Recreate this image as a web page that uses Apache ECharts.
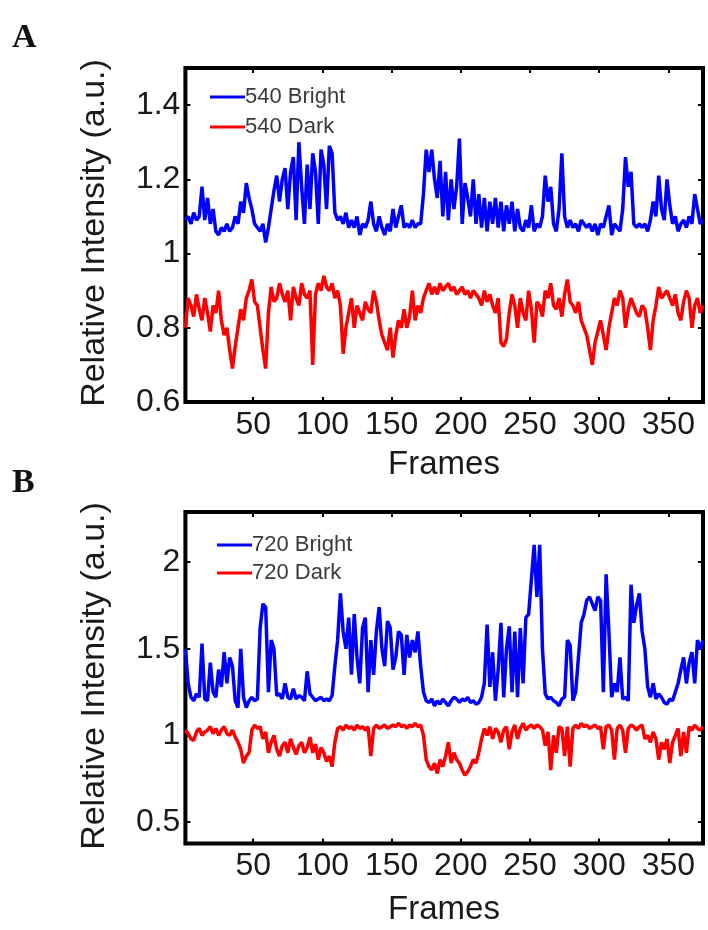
<!DOCTYPE html>
<html>
<head>
<meta charset="utf-8">
<script src="https://cdn.jsdelivr.net/npm/echarts@6/dist/echarts.min.js"></script>
<style>
html,body{margin:0;padding:0;background:#fff;}
#c{width:708px;height:930px;}
</style>
</head>
<body>
<div id="c"></div>
<script>
// Frame sampling grid (every 2nd frame, 1..375)
const frameStart = 1, frameEnd = 375, frameStep = 2;
const frames = [];
for (let f = frameStart; f <= frameEnd; f += frameStep) frames.push(f);

const xTicks = [50, 100, 150, 200, 250, 300, 350];
const yTicksA = [0.6, 0.8, 1, 1.2, 1.4];
const yTicksB = [0.5, 1, 1.5, 2];

const namesA = ['540 Bright', '540 Dark'];
const namesB = ['720 Bright', '720 Dark'];

const bright540 = [
1.09,1.10,1.08,1.11,1.09,1.10,1.18,1.09,1.15,1.08,
1.12,1.06,1.05,1.07,1.06,1.08,1.06,1.07,1.10,1.08,
1.14,1.11,1.19,1.15,1.12,1.08,1.07,1.06,1.08,1.03,
1.07,1.12,1.17,1.21,1.14,1.20,1.23,1.12,1.22,1.26,
1.09,1.30,1.18,1.08,1.24,1.12,1.27,1.22,1.08,1.28,
1.24,1.12,1.29,1.27,1.11,1.09,1.10,1.08,1.11,1.07,
1.09,1.07,1.10,1.05,1.08,1.07,1.09,1.14,1.08,1.06,
1.10,1.07,1.05,1.08,1.06,1.12,1.07,1.10,1.13,1.07,
1.08,1.07,1.09,1.07,1.08,1.08,1.16,1.28,1.22,1.28,
1.20,1.15,1.25,1.10,1.22,1.09,1.20,1.12,1.18,1.31,
1.08,1.19,1.15,1.10,1.20,1.08,1.16,1.07,1.15,1.06,
1.14,1.08,1.15,1.07,1.14,1.06,1.13,1.08,1.14,1.06,
1.12,1.07,1.06,1.09,1.07,1.13,1.06,1.08,1.07,1.10,
1.21,1.14,1.18,1.08,1.06,1.12,1.27,1.10,1.07,1.09,
1.07,1.08,1.06,1.09,1.08,1.07,1.08,1.06,1.08,1.05,
1.08,1.07,1.10,1.13,1.05,1.08,1.07,1.06,1.12,1.26,
1.18,1.22,1.08,1.07,1.08,1.07,1.08,1.06,1.09,1.14,
1.10,1.21,1.12,1.09,1.20,1.13,1.08,1.10,1.06,1.08,
1.09,1.07,1.10,1.08,1.16,1.12,1.08,1.09
];
const dark540 = [
0.80,0.88,0.86,0.83,0.89,0.85,0.82,0.88,0.84,0.79,
0.86,0.84,0.90,0.82,0.78,0.80,0.74,0.69,0.75,0.80,
0.85,0.82,0.88,0.90,0.93,0.87,0.86,0.80,0.74,0.69,
0.84,0.91,0.87,0.88,0.92,0.89,0.87,0.90,0.82,0.91,
0.88,0.86,0.92,0.89,0.88,0.90,0.70,0.89,0.92,0.90,
0.94,0.91,0.90,0.92,0.88,0.90,0.86,0.73,0.80,0.84,
0.88,0.80,0.86,0.84,0.82,0.87,0.85,0.84,0.90,0.87,
0.82,0.78,0.76,0.74,0.80,0.72,0.78,0.82,0.80,0.85,
0.80,0.83,0.90,0.82,0.86,0.84,0.88,0.90,0.92,0.89,
0.91,0.89,0.92,0.90,0.91,0.92,0.90,0.91,0.89,0.90,
0.91,0.89,0.90,0.88,0.90,0.89,0.88,0.86,0.90,0.87,
0.89,0.86,0.84,0.88,0.76,0.75,0.77,0.84,0.89,0.86,
0.80,0.88,0.84,0.82,0.90,0.85,0.76,0.87,0.86,0.83,
0.90,0.88,0.92,0.86,0.85,0.88,0.83,0.89,0.93,0.87,
0.86,0.84,0.87,0.82,0.80,0.78,0.74,0.70,0.76,0.79,
0.82,0.78,0.74,0.80,0.84,0.88,0.86,0.90,0.88,0.80,
0.85,0.88,0.86,0.84,0.83,0.86,0.85,0.80,0.74,0.82,
0.86,0.91,0.88,0.89,0.90,0.88,0.86,0.89,0.84,0.82,
0.87,0.90,0.88,0.80,0.86,0.88,0.84,0.86
];
const bright720 = [
1.50,1.30,1.22,1.20,1.24,1.22,1.53,1.21,1.20,1.42,
1.25,1.22,1.38,1.28,1.48,1.30,1.45,1.40,1.20,1.16,
1.50,1.22,1.16,1.20,1.22,1.20,1.21,1.62,1.76,1.74,
1.25,1.55,1.50,1.23,1.24,1.21,1.30,1.22,1.21,1.27,
1.21,1.23,1.22,1.20,1.37,1.24,1.22,1.20,1.21,1.22,
1.20,1.21,1.20,1.23,1.40,1.55,1.82,1.60,1.50,1.68,
1.35,1.70,1.45,1.30,1.62,1.68,1.25,1.55,1.35,1.60,
1.74,1.50,1.40,1.66,1.62,1.38,1.45,1.60,1.58,1.35,
1.58,1.45,1.55,1.48,1.60,1.40,1.25,1.20,1.19,1.21,
1.17,1.20,1.18,1.21,1.19,1.17,1.20,1.22,1.21,1.19,
1.21,1.20,1.22,1.19,1.20,1.18,1.19,1.22,1.30,1.64,
1.28,1.48,1.20,1.38,1.65,1.22,1.50,1.63,1.25,1.60,
1.22,1.62,1.30,1.68,1.70,1.90,2.10,1.80,2.10,1.50,
1.24,1.21,1.22,1.20,1.19,1.17,1.21,1.22,1.55,1.52,
1.20,1.25,1.45,1.65,1.70,1.78,1.80,1.76,1.72,1.80,
1.78,1.25,1.93,1.60,1.22,1.30,1.25,1.45,1.21,1.22,
1.20,1.87,1.65,1.75,1.82,1.60,1.50,1.28,1.22,1.30,
1.21,1.24,1.22,1.19,1.18,1.21,1.20,1.25,1.30,1.38,
1.45,1.30,1.42,1.48,1.30,1.55,1.50,1.55
];
const dark720 = [
1.03,1.01,0.98,0.97,1.02,1.04,1.00,1.02,1.03,1.05,
1.01,1.04,1.00,1.03,1.05,1.01,1.00,1.03,0.99,0.96,
0.92,0.84,0.88,0.90,1.03,1.06,1.04,1.05,0.98,1.02,
0.90,0.96,1.00,0.92,0.88,0.94,0.96,0.90,0.98,0.93,
0.89,0.94,0.96,0.90,0.93,0.99,0.90,0.95,0.86,0.93,
0.90,0.85,0.88,0.82,0.96,1.04,1.05,1.03,1.06,1.04,
1.05,1.03,1.06,1.04,1.05,1.03,1.05,0.88,1.04,1.06,
1.04,1.05,1.06,1.04,1.05,1.06,1.05,1.07,1.05,1.06,
1.04,1.06,1.05,1.07,1.05,1.06,1.00,0.86,0.82,0.80,
0.84,0.78,0.86,0.82,0.88,0.96,0.84,0.90,0.86,0.84,
0.80,0.77,0.79,0.82,0.86,0.84,0.90,0.98,1.04,1.00,
1.05,0.98,1.04,1.02,0.96,1.03,1.05,0.92,1.02,1.06,
0.98,1.04,1.07,1.03,1.05,1.06,1.04,1.06,1.05,1.03,
0.94,1.02,0.80,1.00,0.90,1.05,1.04,0.88,1.05,0.82,
1.04,1.06,1.04,1.07,1.05,1.06,1.04,1.05,1.06,1.04,
1.05,0.92,1.05,1.06,1.03,0.86,1.04,1.06,1.03,0.90,
1.04,1.06,1.05,1.03,1.05,1.06,0.98,1.00,0.96,1.02,
0.98,0.86,0.96,0.92,0.98,0.84,0.96,1.00,1.04,0.88,
1.02,0.90,1.05,1.03,1.06,1.04,1.03,1.05
];

const pair = vals => frames.map((f, i) => [f, vals[i]]);

const FONT = '"Liberation Sans", Arial, sans-serif';
const tickColor = '#1a1a1a';

const grids = [
  {left: 185.4, width: 517.6, top: 68, height: 334},
  {left: 185.4, width: 517.6, top: 512, height: 331.6}
].map(g => Object.assign(g, {show: true, borderColor: '#000', borderWidth: 4, backgroundColor: '#fff', containLabel: false}));

function xAx(gi, pos, labels) {
  return {
    type: 'value', gridIndex: gi, position: pos, min: frameStart, max: frameEnd,
    axisLine: {show: false},
    splitLine: {show: false},
    axisTick: {show: true, inside: true, length: 5, customValues: xTicks, lineStyle: {color: '#000', width: 2}},
    axisLabel: {show: labels, customValues: xTicks, color: tickColor, fontSize: 32, fontFamily: FONT, margin: 7}
  };
}
function yAx(gi, pos, labels, mn, mx, ticks) {
  return {
    type: 'value', gridIndex: gi, position: pos, min: mn, max: mx,
    axisLine: {show: false},
    splitLine: {show: false},
    axisTick: {show: true, inside: true, length: 5, customValues: ticks, lineStyle: {color: '#000', width: 2}},
    axisLabel: {show: labels, customValues: ticks, color: tickColor, fontSize: 32, fontFamily: FONT, margin: 5,
      formatter: v => String(+v.toFixed(2))}
  };
}

const lineSeries = (name, data, color, xi, yi) => ({
  name, type: 'line', data, xAxisIndex: xi, yAxisIndex: yi,
  showSymbol: false, symbol: 'none', animation: false,
  lineStyle: {color, width: 3.5}, itemStyle: {color}
});

const option = {
  animation: false,
  backgroundColor: '#fff',
  grid: grids,
  xAxis: [xAx(0, 'bottom', true), xAx(0, 'top', false), xAx(1, 'bottom', true), xAx(1, 'top', false)],
  yAxis: [yAx(0, 'left', true, 0.6, 1.5, yTicksA), yAx(0, 'right', false, 0.6, 1.5, yTicksA),
          yAx(1, 'left', true, 0.375, 2.29, yTicksB), yAx(1, 'right', false, 0.375, 2.29, yTicksB)],
  legend: [
    {data: namesA, orient: 'vertical', left: 205, top: 81, itemGap: 8, itemWidth: 35, itemHeight: 3,
     icon: 'rect', textStyle: {fontSize: 22, fontFamily: FONT, color: '#3a3a3a', padding: [0, 0, 0, -5]}},
    {data: namesB, orient: 'vertical', left: 212, top: 529, itemGap: 6, itemWidth: 35, itemHeight: 3,
     icon: 'rect', textStyle: {fontSize: 22, fontFamily: FONT, color: '#3a3a3a', padding: [0, 0, 0, -5]}}
  ],
  graphic: [
    {type: 'text', style: {x: 12, y: 38, text: 'A', font: 'bold 34px "Liberation Serif", "Times New Roman", serif', fill: '#111', textVerticalAlign: 'middle'}},
    {type: 'text', style: {x: 12, y: 483, text: 'B', font: 'bold 34px "Liberation Serif", "Times New Roman", serif', fill: '#111', textVerticalAlign: 'middle'}},
    {type: 'text', x: 95, y: 233, rotation: Math.PI / 2, style: {x: 0, y: 0, text: 'Relative Intensity (a.u.)', font: '34px ' + FONT, fill: '#1a1a1a', textAlign: 'center', textVerticalAlign: 'middle'}},
    {type: 'text', x: 95, y: 676, rotation: Math.PI / 2, style: {x: 0, y: 0, text: 'Relative Intensity (a.u.)', font: '34px ' + FONT, fill: '#1a1a1a', textAlign: 'center', textVerticalAlign: 'middle'}},
    {type: 'text', style: {x: 444, y: 465, text: 'Frames', font: '33px ' + FONT, fill: '#1a1a1a', textAlign: 'center', textVerticalAlign: 'middle'}},
    {type: 'text', style: {x: 444, y: 910, text: 'Frames', font: '33px ' + FONT, fill: '#1a1a1a', textAlign: 'center', textVerticalAlign: 'middle'}}
  ],
  series: [
    lineSeries(namesA[0], pair(bright540), '#0000ff', 0, 0),
    lineSeries(namesA[1], pair(dark540), '#ff0000', 0, 0),
    lineSeries(namesB[0], pair(bright720), '#0000ff', 2, 2),
    lineSeries(namesB[1], pair(dark720), '#ff0000', 2, 2)
  ]
};

const chart = echarts.init(document.getElementById('c'), null, {renderer: 'canvas'});
chart.setOption(option);
</script>
</body>
</html>
